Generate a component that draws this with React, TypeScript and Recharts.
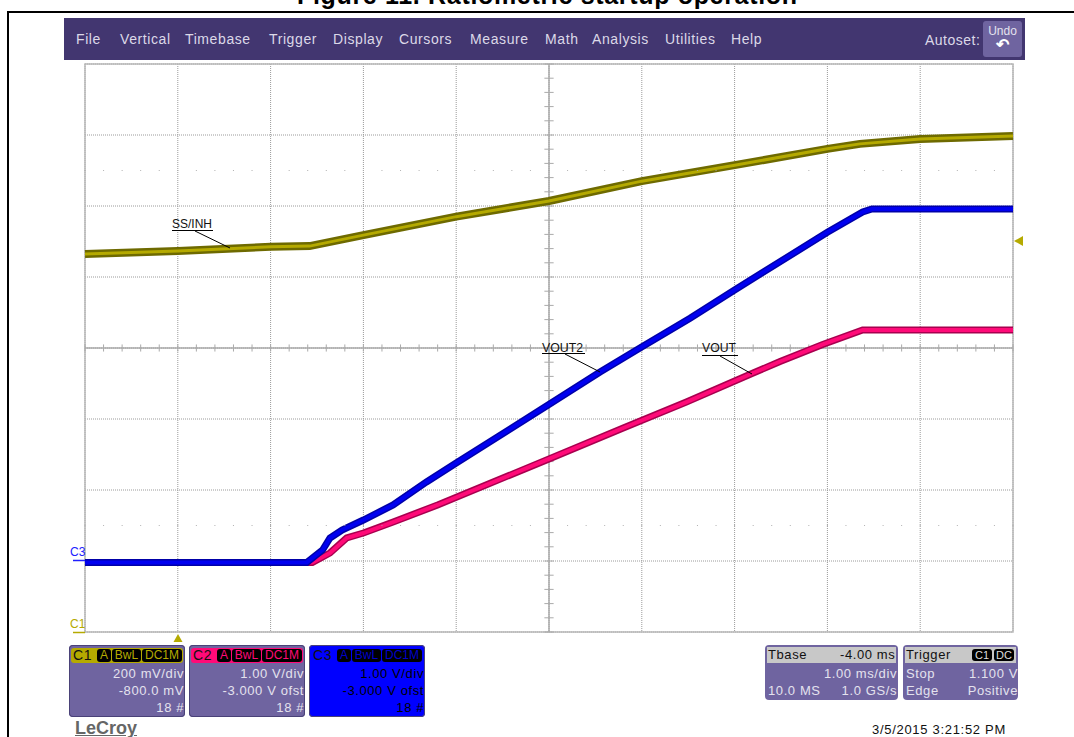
import { CartesianGrid, ComposedChart, Line, ReferenceArea, ReferenceDot, ReferenceLine, XAxis, YAxis } from "recharts"

// x is ms (trigger = 0, 1 ms/div). C2/C3 are 1 V/div with -3 V ofst, C1 is 200 mV/div with 0.8 V centre.
const ssTime = [-1, 0, 1, 1.42, 2, 3, 4, 5, 6, 7, 7.35, 8, 9]
const ssVolts = [1.065, 1.073, 1.085, 1.087, 1.118, 1.17, 1.214, 1.27, 1.315, 1.361, 1.375, 1.389, 1.397]

const vout2Time = [-1, 1.39, 1.56, 1.64, 1.77, 2, 2.32, 2.68, 3, 3.99, 4.55, 4.98, 5.52, 6, 7, 7.38, 7.48, 9]
const vout2Volts = [-0.02, -0.02, 0.155, 0.324, 0.437, 0.577, 0.789, 1.113, 1.38, 2.197, 2.662, 3.0, 3.42, 3.817, 4.63, 4.915, 4.958, 4.958]

const voutTime = [-1, 1.45, 1.64, 1.82, 2, 2.32, 2.8, 4, 4.8, 5.48, 6.2, 6.49, 6.95, 7.38, 9]
const voutVolts = [-0.02, -0.02, 0.113, 0.324, 0.394, 0.549, 0.789, 1.437, 1.873, 2.239, 2.648, 2.81, 3.05, 3.254, 3.254]

const timeTicks = [-1, 0, 1, 2, 3, 4, 5, 6, 7, 8, 9]
const voltTicks = [-1, 0, 1, 2, 3, 4, 5, 6, 7]
const minorTime = Array.from({ length: 51 }, (_, i) => -1 + i * 0.2)
const minorVolts = Array.from({ length: 41 }, (_, i) => -1 + i * 0.2)
const dotRows = [5.5, 0.5]

const menuItems: [string, number][] = [
  ["File", 76],
  ["Vertical", 120],
  ["Timebase", 185],
  ["Trigger", 269],
  ["Display", 333],
  ["Cursors", 399],
  ["Measure", 470],
  ["Math", 545],
  ["Analysis", 592],
  ["Utilities", 665],
  ["Help", 731],
]

const channels = [
  { name: "C1", left: 69, head: "#b5aa00", body: "#6f64a0", ink: "#e4e2ee", lines: ["200 mV/div", "-800.0 mV", "18 #"] },
  { name: "C2", left: 189, head: "#ff0a78", body: "#6f64a0", ink: "#e4e2ee", lines: ["1.00 V/div", "-3.000 V ofst", "18 #"] },
  { name: "C3", left: 309, head: "#0000ff", body: "#0000ff", ink: "#000000", lines: ["1.00 V/div", "-3.000 V ofst", "18 #"] },
]

const toPoints = (xs: number[], ys: number[]) => xs.map((t, i) => ({ t, v: ys[i] }))
const font = "'Liberation Sans', Arial, sans-serif"

function abs(left: number, top: number, extra: any = {}) {
  return { position: "absolute", left, top, ...extra } as any
}

function ChannelPanel({ c }: any) {
  return (
    <div style={abs(c.left, 645, { width: 116, height: 72, background: c.body, borderRadius: 4, boxShadow: "inset 0 0 0 1px #4a4278", fontFamily: font, fontSize: 13, letterSpacing: 0.6, color: c.ink })}>
      <div style={abs(2, 3, { width: 112, height: 15, background: c.head, borderRadius: 3 })} />
      <div style={abs(4, 2, { color: "#111", fontSize: 14 })}>{c.name}</div>
      {[["A", 28, 14], ["BwL", 43, 29], ["DC1M", 73, 40]].map(([b, x, w]: any) => (
        <div key={b} style={abs(x, 4, { width: w, height: 13, lineHeight: "13px", background: "#000", borderRadius: 3, color: c.head === "#0000ff" ? "#0000cc" : c.head, fontSize: 12, letterSpacing: 0, textAlign: "center" })}>{b}</div>
      ))}
      {c.lines.map((l: string, i: number) => (
        <div key={i} style={abs(0, 20 + i * 17, { width: 115, textAlign: "right", lineHeight: "17px", whiteSpace: "nowrap" })}>{l}</div>
      ))}
    </div>
  )
}

export default function App() {
  return (
    <div style={abs(0, 0, { width: 1074, height: 737, overflow: "hidden", background: "#fff", fontFamily: font })}>
      <ComposedChart width={1074} height={737} margin={{ top: 64, right: 61, bottom: 105, left: 85 }} data={toPoints(vout2Time, vout2Volts)} style={{ position: "absolute", left: 0, top: 0 }}>
        <XAxis dataKey="t" type="number" domain={[-1, 9]} ticks={timeTicks} hide allowDuplicatedCategory={false} />
        <YAxis yAxisId="v" type="number" domain={[-1, 7]} ticks={voltTicks} hide />
        <YAxis yAxisId="c1" type="number" domain={[0, 1.6]} hide />
        <CartesianGrid yAxisId="v" stroke="#9a9a9a" strokeDasharray="1 1" />
        <ReferenceLine yAxisId="v" x={4} stroke="#aaaaaa" strokeWidth={1.5} />
        <ReferenceLine yAxisId="v" y={3} stroke="#aaaaaa" strokeWidth={1.5} />
        {minorTime.map((t) => (
          <ReferenceLine key={`tx${t}`} yAxisId="v" stroke="#aaaaaa" segment={[{ x: t, y: 2.95 }, { x: t, y: 3.05 }]} />
        ))}
        {minorVolts.map((v) => (
          <ReferenceLine key={`ty${v}`} yAxisId="v" stroke="#aaaaaa" segment={[{ x: 3.95, y: v }, { x: 4.05, y: v }]} />
        ))}
        {dotRows.flatMap((row) =>
          minorTime.map((t) => <ReferenceDot key={`d${row}${t}`} yAxisId="v" x={t} y={row} r={0.6} fill="#aaaaaa" stroke="none" />),
        )}
        <ReferenceArea yAxisId="v" x1={-1} x2={9} y1={-1} y2={7} fill="none" stroke="#b8b8b8" strokeWidth={1.5} />
        <Line yAxisId="c1" data={toPoints(ssTime, ssVolts)} dataKey="v" stroke="#6e6a00" strokeWidth={8} dot={false} isAnimationActive={false} />
        <Line yAxisId="c1" data={toPoints(ssTime, ssVolts)} dataKey="v" stroke="#b5aa00" strokeWidth={3} dot={false} isAnimationActive={false} />
        <Line yAxisId="v" data={toPoints(voutTime, voutVolts)} dataKey="v" stroke="#a8004f" strokeWidth={7} dot={false} isAnimationActive={false} />
        <Line yAxisId="v" data={toPoints(voutTime, voutVolts)} dataKey="v" stroke="#ff0a78" strokeWidth={4} dot={false} isAnimationActive={false} />
        <Line yAxisId="v" data={toPoints(vout2Time, vout2Volts)} dataKey="v" stroke="#0000a8" strokeWidth={7} dot={false} isAnimationActive={false} />
        <Line yAxisId="v" data={toPoints(vout2Time, vout2Volts)} dataKey="v" stroke="#0000f0" strokeWidth={4} dot={false} isAnimationActive={false} />
      </ComposedChart>

      <div style={abs(7, 11, { width: 1067, height: 2, background: "#000" })} />
      <div style={abs(7, 11, { width: 2, height: 726, background: "#000" })} />

      <div style={abs(64, 18, { width: 961, height: 42, background: "#423670" })} />
      {menuItems.map(([label, x]) => (
        <div key={label} style={abs(x, 32, { fontSize: 14, letterSpacing: 0.6, lineHeight: "15px", color: "#dcd9e8" })}>{label}</div>
      ))}
      <div style={abs(925, 33, { fontSize: 14, letterSpacing: 0.5, lineHeight: "15px", color: "#dcd9e8" })}>Autoset:</div>
      <div style={abs(983, 21, { width: 39, height: 36, background: "#6f64a0", borderRadius: 3, color: "#e4e2ee", fontSize: 12, textAlign: "center", lineHeight: "13px", paddingTop: 4, boxSizing: "border-box" })}>
        Undo
        <br />
        <span style={{ fontSize: 16, fontWeight: 700, color: "#fff" }}>↶</span>
      </div>

      <svg width={1074} height={737} style={abs(0, 0)}>
        <text x={297} y={3.5} fontFamily={font} fontSize={25} fontWeight={700} fill="#000" textLength={500}>Figure 11. Ratiometric startup operation</text>
        <g fontFamily={font} fontSize={13} fill="#111">
          <text x={172} y={228} textLength={40} lengthAdjust="spacingAndGlyphs">SS/INH</text>
          <text x={542} y={352} textLength={41} lengthAdjust="spacingAndGlyphs">VOUT2</text>
          <text x={702} y={352} textLength={34} lengthAdjust="spacingAndGlyphs">VOUT</text>
        </g>
        <g stroke="#000" strokeWidth={1} fill="none">
          <path d="M172 230.5H213M195 231L230 248" />
          <path d="M542 353.5H585M565 354L600 372" />
          <path d="M702 355.5H738M720 356L752 374" />
        </g>
        <path d="M1014 241L1023 236V246Z" fill="#b5aa00" />
        <path d="M178 634L182.5 642H173.5Z" fill="#b5aa00" />
        <path d="M73 560.5H85" stroke="#2020ff" strokeWidth={1.5} />
        <path d="M73 632.5H85" stroke="#b5aa00" strokeWidth={1.5} />
        <text x={70} y={556} fontFamily={font} fontSize={12} fill="#2020ff">C3</text>
        <text x={70} y={628} fontFamily={font} fontSize={12} fill="#b5aa00">C1</text>
      </svg>

      {channels.map((c) => (
        <ChannelPanel key={c.name} c={c} />
      ))}

      <div style={abs(765, 645, { width: 133, height: 55, background: "#6f64a0", borderRadius: 4, color: "#e4e2ee", fontSize: 13, letterSpacing: 0.6 })}>
        <div style={abs(2, 2, { width: 129, height: 16, lineHeight: "16px", background: "#c8c8c8", color: "#111" })}>
          <span style={abs(1, 0)}>Tbase</span>
          <span style={abs(73, 0, { whiteSpace: "nowrap" })}>-4.00 ms</span>
        </div>
        <div style={abs(0, 20, { width: 132, textAlign: "right", lineHeight: "17px" })}>1.00 ms/div</div>
        <div style={abs(3, 37, { lineHeight: "17px" })}>10.0 MS</div>
        <div style={abs(0, 37, { width: 132, textAlign: "right", lineHeight: "17px" })}>1.0 GS/s</div>
      </div>
      <div style={abs(903, 645, { width: 115, height: 55, background: "#6f64a0", borderRadius: 4, color: "#e4e2ee", fontSize: 13, letterSpacing: 0.6 })}>
        <div style={abs(2, 2, { width: 111, height: 16, lineHeight: "16px", background: "#c8c8c8", color: "#111" })}>
          <span style={abs(1, 0)}>Trigger</span>
          <span style={abs(67, 2, { width: 20, height: 12, lineHeight: "12px", background: "#000", color: "#ddd", borderRadius: 3, fontSize: 11, letterSpacing: 0, textAlign: "center" })}>C1</span>
          <span style={abs(89, 2, { width: 20, height: 12, lineHeight: "12px", background: "#000", color: "#ddd", borderRadius: 3, fontSize: 11, letterSpacing: 0, textAlign: "center" })}>DC</span>
        </div>
        <div style={abs(3, 20, { lineHeight: "17px" })}>Stop</div>
        <div style={abs(0, 20, { width: 115, textAlign: "right", lineHeight: "17px" })}>1.100 V</div>
        <div style={abs(3, 37, { lineHeight: "17px" })}>Edge</div>
        <div style={abs(0, 37, { width: 115, textAlign: "right", lineHeight: "17px" })}>Positive</div>
      </div>

      <div style={abs(75, 719, { fontSize: 18, fontWeight: 700, color: "#666", lineHeight: "19px", textDecoration: "underline" })}>LeCroy</div>
      <div style={abs(872, 723, { fontSize: 13, letterSpacing: 0.7, color: "#111", lineHeight: "14px", whiteSpace: "nowrap" })}>3/5/2015 3:21:52 PM</div>
    </div>
  )
}
